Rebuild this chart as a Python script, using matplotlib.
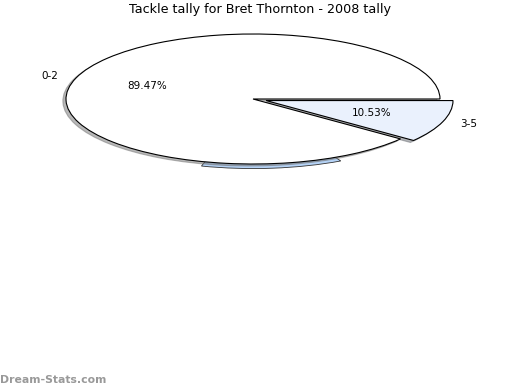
import matplotlib.pyplot as plt
from matplotlib.patches import Wedge

labels = ["3-5", "0-2"]
values = [10.53, 89.47]
colors = ["#EAF1FD", "#FFFFFF"]
explode = [0.0735, 0]

fig = plt.figure(figsize=(5.2, 3.9), dpi=100)
ax = fig.add_axes([0, 0, 1, 1])

wedges, texts, autotexts = ax.pie(
    values,
    labels=labels,
    colors=colors,
    explode=explode,
    startangle=0,
    counterclock=False,
    autopct="%.2f%%",
    pctdistance=0.6,
    labeldistance=1.1,
    shadow={"ox": -0.012, "oy": -0.022, "shade": 0.55},
    wedgeprops={"edgecolor": "black", "linewidth": 0.8},
    textprops={"fontsize": 7.5},
)

# thin blue rim showing under the bottom of the pie
rim = Wedge((0, -0.07), 1, -106, -62, facecolor="#B5D3F7",
            edgecolor="#333333", linewidth=0.6, zorder=0)
ax.add_patch(rim)

ax.set_aspect("auto")
ax.set_xlim(-253 / 187, 267 / 187)
ax.set_ylim(-291 / 65, 99 / 65)
ax.axis("off")

fig.text(0.5, 1 - 10 / 390, "Tackle tally for Bret Thornton - 2008 tally",
         ha="center", va="center", fontsize=9.2)
fig.text(0.0, 1 - 380 / 390, "Dream-Stats.com", ha="left", va="center",
         fontsize=7.8, color="#999999", fontweight="bold")

fig.savefig("out.png", dpi=100)
